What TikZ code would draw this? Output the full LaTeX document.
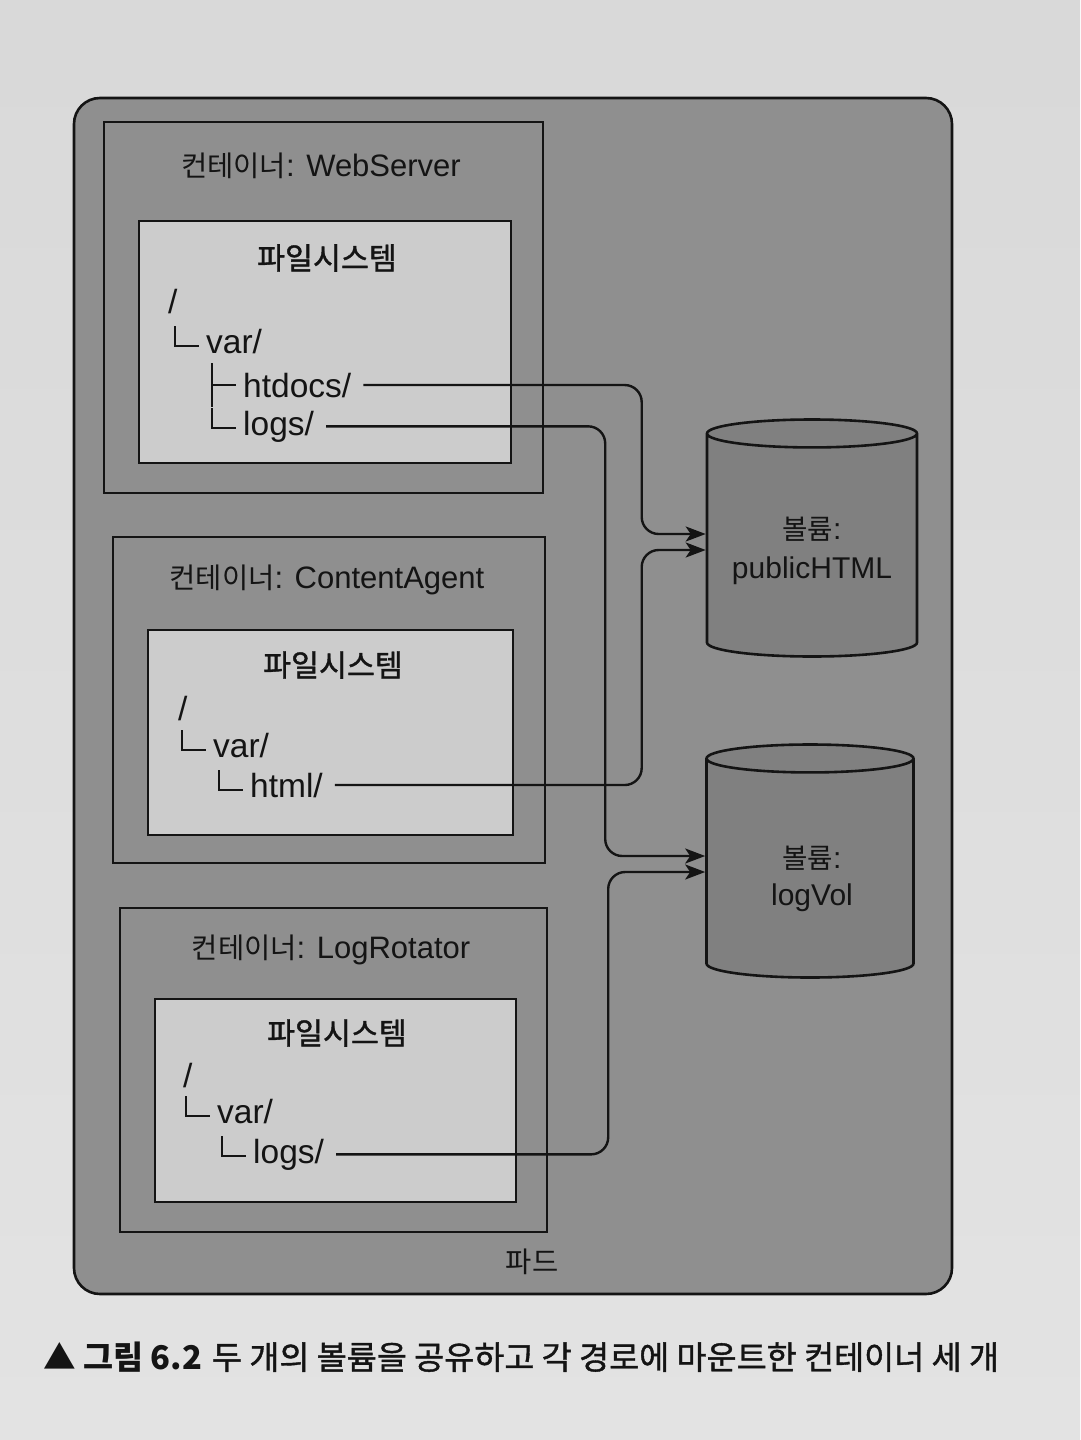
\documentclass[tikz,border=0pt]{standalone}
\usepackage{fontspec}
\setmainfont{Liberation Sans}
\newfontfamily\kr[Scale=0.92]{Noto Sans CJK KR}
\newfontfamily\krm[Scale=0.92,FakeBold=1.2]{Noto Sans CJK KR}
\usepackage{tikz}
\usetikzlibrary{arrows,arrows.meta,shapes.geometric,positioning}

\definecolor{papel}{gray}{0.85}
\definecolor{papelb}{gray}{0.89}
\definecolor{gpod}{gray}{0.56}
\definecolor{gfs}{gray}{0.80}
\definecolor{gvol}{gray}{0.50}
\definecolor{tinta}{gray}{0.08}

\tikzset{
  marco/.style={draw=tinta, line width=2.6pt},
  titulo/.style={font=\fontsize{31}{36}\selectfont, text=tinta, inner sep=0pt},
  fstitulo/.style={font=\fontsize{33}{38}\selectfont\krm, text=tinta, inner sep=0pt},
  arbol/.style={font=\fontsize{33.5}{40}\selectfont, text=tinta, anchor=base west, inner sep=0pt},
  rama/.style={draw=tinta, line width=2pt},
  volumen/.style={cylinder, shape border rotate=90, aspect=0.147, draw=tinta, line width=2.6pt,
    fill=gvol, minimum width=210pt, minimum height=237pt, text width=190pt,
    inner sep=0pt, anchor=shape center},
  voltexto/.style={align=center, font=\fontsize{30}{39}\selectfont, text=tinta, inner sep=0pt},
  montaje/.style={draw=tinta, line width=2.4pt, rounded corners=17pt, shorten <=12pt,
    -{Stealth[length=20pt,width=15pt,inset=5pt]}},
}

\begin{document}
\begin{tikzpicture}[x=1pt,y=-1pt]
\useasboundingbox (0,0) rectangle (1080,1440);
%fondo de la hoja
\shade[top color=papel, bottom color=papelb] (0,0) rectangle (1080,1440);

%el pod
\draw[marco, fill=gpod, rounded corners=26pt] (74,98) rectangle (952,1294);
\node[titulo] (pod) at (532,1262) {\kr 파드};

%contenedor WebServer
\draw[marco] (104,122) rectangle (543,493);
\node[titulo] (ws) at (321,166) {{\kr 컨테이너}: WebServer};
\draw[marco, fill=gfs] (139,221) rectangle (511,463);
\node[fstitulo] (ws-fs) at (327,258) {파일시스템};
\node[arbol] (ws-root) at (168,313) {/};
\node[arbol] (ws-var) at (206,353) {var/};
\node[arbol] (ws-htdocs) at (243,397) {htdocs/};
\node[arbol] (ws-logs) at (243,435) {logs/};

%contenedor ContentAgent
\draw[marco] (113,537) rectangle (545,863);
\node[titulo] (ca) at (327,580) {{\kr 컨테이너}: ContentAgent};
\draw[marco, fill=gfs] (148,630) rectangle (513,835);
\node[fstitulo] (ca-fs) at (333,665) {파일시스템};
\node[arbol] (ca-root) at (178,720) {/};
\node[arbol] (ca-var) at (213,757) {var/};
\node[arbol] (ca-html) at (250,797) {html/};

%contenedor LogRotator
\draw[marco] (120,908) rectangle (547,1232);
\node[titulo] (lr) at (331,950) {{\kr 컨테이너}: LogRotator};
\draw[marco, fill=gfs] (155,999) rectangle (516,1202);
\node[fstitulo] (lr-fs) at (337,1033) {파일시스템};
\node[arbol] (lr-root) at (183,1087) {/};
\node[arbol] (lr-var) at (217,1123) {var/};
\node[arbol] (lr-logs) at (253,1163) {logs/};

%ramas del arbol de directorios
\foreach \n in {ws-var,ws-logs,ca-var,ca-html,lr-var,lr-logs}
	\draw[rama] ([xshift=-31pt,yshift=27pt]\n.base west) |- ([xshift=-7pt,yshift=7pt]\n.base west);
\draw[rama] ([xshift=-31pt,yshift=34pt]ws-htdocs.base west) -- ([xshift=-31pt,yshift=-10pt]ws-htdocs.base west);
\draw[rama] ([xshift=-31pt,yshift=12pt]ws-htdocs.base west) -- ([xshift=-7pt,yshift=12pt]ws-htdocs.base west);

%volumenes
\node[volumen] (vol1) at (812,538) {};
\node[voltexto] (vol1-txt) at ([yshift=-13pt]vol1.shape center) {{\kr 볼륨}:\\publicHTML};
\node[volumen, minimum width=207pt, minimum height=233pt] (vol2) at (810,861) {};
\node[voltexto] (vol2-txt) at ([xshift=2pt,yshift=-18pt]vol2.shape center) {{\kr 볼륨}:\\[-2pt]logVol};

%puntos de entrada de los montajes
\coordinate (v1a) at ([yshift=4pt]vol1.shape center);
\coordinate (v1b) at ([yshift=-12pt]vol1.shape center);
\coordinate (v2a) at ([yshift=5pt]vol2.shape center);
\coordinate (v2b) at ([yshift=-11pt]vol2.shape center);

%montajes
\draw[montaje] (ws-htdocs.east) -| ([xshift=-64pt]v1a -| vol1.west) -- (v1a -| vol1.west);
\draw[montaje] (ca-html.east) -| ([xshift=-64pt]v1b -| vol1.west) -- (v1b -| vol1.west);
\draw[montaje] (ws-logs.east) -| ([xshift=-100pt]v2a -| vol2.west) -- (v2a -| vol2.west);
\draw[montaje] (lr-logs.east) -| ([xshift=-97pt]v2b -| vol2.west) -- (v2b -| vol2.west);

%pie de figura
\node[anchor=west, text=tinta, inner sep=0pt, font=\fontsize{35.5}{40}\selectfont] (pie) at (43,1357)
	{{\kr\bfseries ▲ 그림 6.2} {\krm 두 개의 볼륨을 공유하고 각 경로에 마운트한 컨테이너 세 개}};
\end{tikzpicture}
\end{document}
